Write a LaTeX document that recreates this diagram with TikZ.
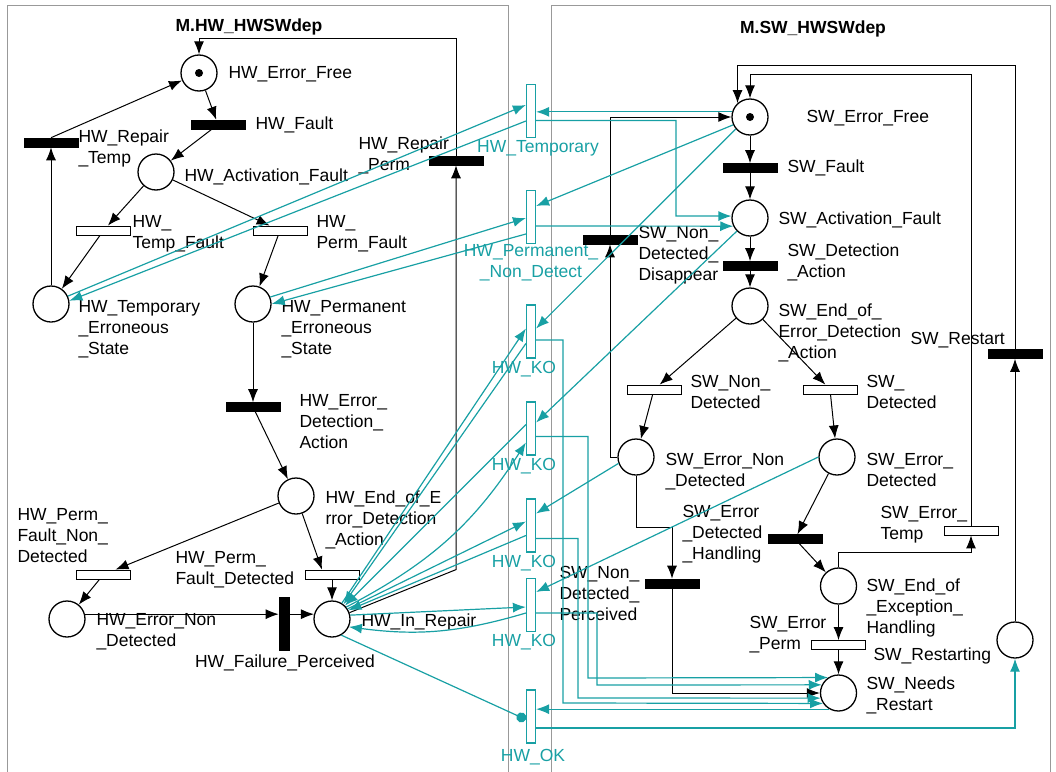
\documentclass[tikz,border=0pt]{standalone}
\usepackage{fontspec}
\setmainfont{Liberation Sans}
\usetikzlibrary{arrows.meta}
\definecolor{iface}{RGB}{24,160,164}
\newcommand{\lbl}{\fontsize{17.5}{21}\selectfont}

\begin{document}
\begin{tikzpicture}[x=1pt,y=-1pt,line width=1pt,>={Latex[length=13pt,width=10pt]},
place/.style={circle,draw=black,line width=1.3pt,fill=white,minimum size=36pt,inner sep=0pt},
token/.style={circle,fill=black,minimum size=8pt,inner sep=0pt},
tblack/.style={rectangle,fill=black,draw=black,line width=0.6pt,minimum width=54pt,minimum height=9pt,inner sep=0pt},
twhite/.style={rectangle,fill=white,draw=black,line width=0.8pt,minimum width=54pt,minimum height=9pt,inner sep=0pt},
tiface/.style={rectangle,fill=white,draw=iface,line width=1.2pt,minimum width=9pt,minimum height=53pt,inner sep=0pt},
txt/.style={font=\lbl,anchor=north west,align=left,inner sep=0pt},
itxt/.style={font=\lbl,text=iface,align=center,inner sep=0pt},
frame/.style={draw=black!40,line width=0.8pt},
iarc/.style={color=iface,line width=1.2pt},
]
\useasboundingbox (0,0) rectangle (1056,771);

% frames of the two models
\draw[frame] (7,780) -- (7,5) -- (508,5) -- (508,780);
\draw[frame] (551,780) -- (551,5) -- (1050,5) -- (1050,780);
\node[font=\lbl\bfseries] (hwtitle) at (249,27) {M.HW\_HWSWdep};
\node[font=\lbl\bfseries] (swtitle) at (813,29) {M.SW\_HWSWdep};

% M.HW_HWSWdep
\node[place] (hwfree) at (199,73) {};
\node[token] (hwfreetok) at (hwfree) {};
\node[place] (hwact) at (156,172) {};
\node[place] (hwtmp) at (51,304) {};
\node[place] (hwprm) at (253,304) {};
\node[place] (hwend) at (296,496) {};
\node[place] (hwnond) at (67,619) {};
\node[place] (hwrep) at (332,619) {};

\node[tblack] (hwfault) at (218,124.5) {};
\node[tblack] (hwrtmp) at (51,142.5) {};
\node[tblack] (hwrprm) at (456,160.5) {};
\node[twhite] (hwtf) at (103.5,230.5) {};
\node[twhite] (hwpf) at (280,230.5) {};
\node[tblack] (hwdet) at (253,407) {};
\node[twhite] (hwpfnd) at (103.5,574.5) {};
\node[twhite] (hwpfd) at (332,574.5) {};
\node[tblack,minimum width=10pt,minimum height=53pt] (hwfail) at (284,623.5) {};

\node[txt] (lhwfree) at (228,66) {HW\_Error\_Free};
\node[txt] (lhwfault) at (255,116) {HW\_Fault};
\node[txt] (lhwrtmp) at (78,129) {HW\_Repair\\\_Temp};
\node[txt] (lhwact) at (184,168) {HW\_Activation\_Fault};
\node[txt] (lhwrprm) at (358,136) {HW\_Repair\\\_Perm};
\node[txt] (lhwtf) at (132,215) {HW\_\\Temp\_Fault};
\node[txt] (lhwpf) at (316,215) {HW\_\\Perm\_Fault};
\node[txt] (lhwtmp) at (78,300) {HW\_Temporary\\\_Erroneous\\\_State};
\node[txt] (lhwprm) at (281,300) {HW\_Permanent\\\_Erroneous\\\_State};
\node[txt] (lhwdet) at (299,394) {HW\_Error\_\\Detection\_\\Action};
\node[txt] (lhwend) at (325,490) {HW\_End\_of\_E\\rror\_Detection\\\_Action};
\node[txt] (lhwpfnd) at (17,508) {HW\_Perm\_\\Fault\_Non\_\\Detected};
\node[txt] (lhwpfd) at (175,551) {HW\_Perm\_\\Fault\_Detected};
\node[txt] (lhwnond) at (96,613) {HW\_Error\_Non\\\_Detected};
\node[font=\lbl,inner sep=0pt] (lhwfail) at (285,663) {HW\_Failure\_Perceived};
\node[txt] (lhwrep) at (361,613) {HW\_In\_Repair};

% interface transitions
\node[tiface] (itmp) at (531,111) {};
\node[tiface] (iprm) at (531,217) {};
\node[tiface] (ko1) at (531,331.5) {};
\node[tiface] (ko2) at (531,428.5) {};
\node[tiface] (ko3) at (531,525.5) {};
\node[tiface] (ko4) at (531,605) {};
\node[tiface] (iok) at (531,716.5) {};
\node[itxt] (litmp) at (538,148) {HW\_Temporary};
\node[itxt] (liprm) at (531,263) {HW\_Permanent\_\\\_Non\_Detect};
\node[itxt] (lko1) at (524,369) {HW\_KO};
\node[itxt] (lko2) at (524,466) {HW\_KO};
\node[itxt] (lko3) at (524,563) {HW\_KO};
\node[itxt] (lko4) at (524,642) {HW\_KO};
\node[itxt] (liok) at (533,757) {HW\_OK};

% M.SW_HWSWdep
\node[place] (swfree) at (750,117) {};
\node[token] (swfreetok) at (swfree) {};
\node[place] (swact) at (750,218) {};
\node[place] (swend) at (750,306) {};
\node[place] (swerrnd) at (636,457) {};
\node[place] (swerrd) at (837,457) {};
\node[place] (swexc) at (838.5,586) {};
\node[place] (swneeds) at (838.5,693) {};
\node[place] (swrestarting) at (1015,640) {};

\node[tblack] (swfault) at (750,168) {};
\node[tblack] (swdet) at (750,266) {};
\node[twhite] (swnd) at (654,389.5) {};
\node[twhite] (swd) at (830,389.5) {};
\node[tblack] (swdis) at (610,239.5) {};
\node[tblack] (swhand) at (795,539) {};
\node[twhite] (swtemp) at (971,530.5) {};
\node[twhite] (swperm) at (838.5,645) {};
\node[tblack] (swperc) at (672,583.5) {};
\node[tblack] (swrestart) at (1015,354) {};

\node[txt] (lswfree) at (806,110) {SW\_Error\_Free};
\node[txt] (lswfault) at (787,159) {SW\_Fault};
\node[txt] (lswact) at (778,211) {SW\_Activation\_Fault};
\node[txt] (lswdet) at (787,243) {SW\_Detection\\\_Action};
\node[txt] (lswdis) at (638,226) {SW\_Non\_\\Detected\_\\Disappear};
\node[txt] (lswend) at (778,303) {SW\_End\_of\_\\Error\_Detection\\\_Action};
\node[txt] (lswrestart) at (910,332) {SW\_Restart};
\node[txt] (lswnd) at (690,375) {SW\_Non\_\\Detected};
\node[txt] (lswd) at (866,375) {SW\_\\Detected};
\node[txt] (lswerrnd) at (665,453) {SW\_Error\_Non\\\_Detected};
\node[txt] (lswerrd) at (866,453) {SW\_Error\_\\Detected};
\node[txt] (lswhand) at (682,505) {SW\_Error\\\_Detected\\\_Handling};
\node[txt] (lswtemp) at (880,506) {SW\_Error\_\\Temp};
\node[txt] (lswperc) at (559,566) {SW\_Non\_\\Detected\_\\Perceived};
\node[txt] (lswexc) at (866,578) {SW\_End\_of\\\_Exception\_\\Handling};
\node[txt] (lswperm) at (749,616) {SW\_Error\\\_Perm};
\node[txt] (lswrestarting) at (873,647) {SW\_Restarting};
\node[txt] (lswneeds) at (866,676) {SW\_Needs\\\_Restart};

% arcs of the HW model
\path[->] (hwfree) edge (hwfault)
          (hwfault) edge (hwact)
          (hwact) edge (hwtf)
          (hwact) edge (hwpf)
          (hwtf) edge (hwtmp)
          (hwpf) edge (hwprm)
          (hwtmp) edge (hwrtmp)
          (hwrtmp.north) edge (hwfree)
          (hwprm) edge (hwdet)
          (hwdet) edge (hwend)
          (hwend) edge (hwpfnd)
          (hwend) edge ([xshift=-10pt]hwpfd.north)
          (hwpfnd) edge (hwnond)
          (hwpfd) edge (hwrep);
\draw[->] (hwnond.15) -- (hwnond.15 -| hwfail.west);
\draw[->] (hwfail.east |- hwrep.165) -- (hwrep.165);
\draw[->] (hwrep.20) -- (hwrprm.south |- hwpfd.north) -- (hwrprm.south);
\coordinate (hwloop) at (456,38);
\draw[->] (hwrprm.north) -- (hwloop) -| (hwfree.north);

% arcs of the SW model
\path[->] (swfree) edge (swfault)
          (swfault) edge (swact)
          (swact) edge (swdet)
          (swdet) edge (swend)
          (swend) edge (swnd)
          (swend) edge (swd)
          (swnd) edge (swerrnd)
          (swd) edge (swerrd)
          (swerrd) edge (swhand)
          (swhand) edge (swexc)
          (swexc) edge (swperm)
          (swperm) edge (swneeds)
          (swrestarting) edge (swrestart);
\draw[->] (swerrnd.west) -| (swdis.south);
\draw[->] (swdis.north) |- (swfree.west);
\coordinate (swpb) at (672,527);
\draw[->] (swerrnd.south) |- (swpb) -- (swperc.north);
\draw[->] (swperc.south) |- (swneeds.west);
\coordinate (swtb) at (971,552);
\draw[->] (swexc.north) |- (swtb) -- (swtemp.south);
\coordinate (swloopa) at (971,74);
\draw[->] (swtemp.north) -- (swloopa) -| (swfree.north);
\coordinate (swloopb) at (1015,65);
\draw[->] (swrestart.north) -- (swloopb) -| (swfree.132);

% dependencies
\path[->,iarc] (hwtmp.25) edge ([yshift=6pt]itmp.west)
               ([yshift=-10pt]itmp.west) edge (hwtmp.10)
               (hwprm.22) edge ([yshift=-1pt]iprm.west)
               ([yshift=-17pt]iprm.west) edge (hwprm.east)
               (swfree.164) edge (itmp.east |- swfree.164)
               (swfree.205) edge ([yshift=11pt]iprm.east)
               ([yshift=-9pt]iprm.east) edge (swact.206)
               (swfree.220) edge ([yshift=3pt]ko1.east)
               (swact.225) edge ([yshift=6pt]ko2.east)
               (swerrnd.200) edge ([yshift=12pt]ko3.east)
               (swerrd.west) edge ([yshift=13pt]ko4.east)
               (hwrep.58) edge ([yshift=3pt]ko1.west)
               ([yshift=-12pt]ko1.west) edge (hwrep.52)
               ([yshift=4pt]ko2.west) edge (hwrep.46)
               (hwrep.40) edge[bend right=15] ([yshift=-14pt]ko2.west)
               (hwrep.33) edge ([yshift=4pt]ko3.west)
               ([yshift=-10pt]ko3.west) edge (hwrep.28)
               (hwrep.12) edge ([yshift=-2pt]ko4.west)
               ([yshift=-8pt]ko4.west) edge[bend left=12] (hwrep.335)
               (swneeds.240) edge (iok.east |- swneeds.240);
\draw[->,iarc] ([yshift=-9.5pt]itmp.east) -| (676,216) -- (swact.174);
\draw[->,iarc] ([yshift=-8.5pt]ko1.east) -| (563,703) -- (swneeds.214);
\draw[->,iarc] ([yshift=-8pt]ko2.east) -| (588,678) -- (swneeds.124);
\draw[->,iarc] ([yshift=-13pt]ko3.east) -| (578,698) -- (swneeds.196);
\draw[->,iarc] ([yshift=-8pt]ko4.east) -| (597,685) -- (swneeds.154);
\draw[->,iarc] ([yshift=-11.5pt]iok.east) -| (swrestarting.south);
\draw[iarc,-{Circle[length=10pt]}] (hwrep.300) -- ([yshift=-3pt]iok.west);

\end{tikzpicture}
\end{document}
